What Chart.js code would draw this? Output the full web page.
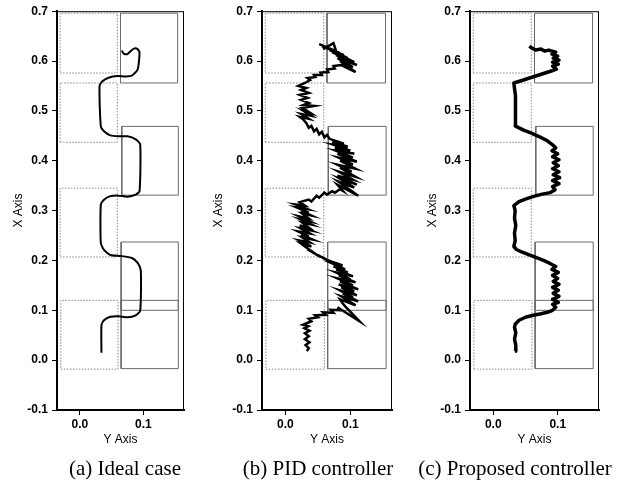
<!DOCTYPE html>
<html>
<head>
<meta charset="utf-8">
<script src="https://cdn.jsdelivr.net/npm/chart.js@4/dist/chart.umd.min.js"></script>
<style>
  body { margin: 0; background: #fff; }
  #wrap { position: relative; width: 625px; height: 486px; }
  canvas { position: absolute; top: 0; }
</style>
</head>
<body>
<div id="wrap">
  <canvas id="chartA" width="205" height="486" style="left:0px"></canvas>
  <canvas id="chartB" width="205" height="486" style="left:205px"></canvas>
  <canvas id="chartC" width="205" height="486" style="left:413px"></canvas>
</div>
<script>
// tick values
const xTicks = [0.0, 0.1];
const yTicks = [-0.1, 0.0, 0.1, 0.2, 0.3, 0.4, 0.5, 0.6, 0.7];

const captions = ["(a) Ideal case", "(b) PID controller", "(c) Proposed controller"];

// obstacles [x1, x2, y1, y2]
const leftBoxes = [
    [-0.031, 0.059, 0.576, 0.696],
    [-0.031, 0.059, 0.437, 0.556],
    [-0.031, 0.059, 0.207, 0.345],
    [-0.030, 0.060, -0.018, 0.120]
];
const rightBoxes = [
    [0.064, 0.154, 0.556, 0.696],
    [0.066, 0.155, 0.331, 0.469],
    [0.065, 0.155, 0.100, 0.237],
    [0.065, 0.155, -0.017, 0.120]
];

// trajectories [y axis, x axis]
const idealPath = [
    [0.034,0.015],[0.034,0.070],[0.038,0.080],[0.048,0.087],[0.061,0.088],[0.075,0.086],[0.088,0.090],
    [0.095,0.099],[0.096,0.180],[0.091,0.195],[0.082,0.205],[0.064,0.209],[0.048,0.211],[0.038,0.221],
    [0.033,0.235],[0.033,0.312],[0.038,0.322],[0.048,0.329],[0.061,0.330],[0.075,0.328],[0.088,0.332],
    [0.094,0.339],[0.095,0.433],[0.088,0.443],[0.075,0.449],[0.061,0.449],[0.048,0.451],[0.038,0.459],
    [0.033,0.469],[0.031,0.550],[0.036,0.560],[0.046,0.567],[0.059,0.570],[0.072,0.569],[0.082,0.571],
    [0.091,0.583],[0.094,0.617],[0.091,0.624],[0.085,0.625],[0.080,0.620],[0.075,0.614],[0.069,0.615],
    [0.066,0.621]
];

const pidPath = [
    [0.033,0.018],[0.036,0.024],[0.031,0.030],[0.037,0.036],[0.030,0.042],[0.036,0.048],[0.030,0.054],
    [0.037,0.059],[0.029,0.064],[0.035,0.068],[0.027,0.071],
    [0.040,0.078],[0.036,0.083],[0.050,0.086],[0.046,0.090],[0.062,0.091],[0.058,0.096],[0.074,0.095],
    [0.070,0.101],[0.086,0.100],[0.080,0.106],[0.114,0.078],[0.092,0.108],[0.088,0.114],
    [0.084,0.122],[0.108,0.110],[0.086,0.128],[0.112,0.118],[0.088,0.134],[0.104,0.126],[0.084,0.140],
    [0.110,0.130],[0.086,0.146],[0.106,0.138],[0.082,0.152],[0.112,0.142],[0.084,0.158],[0.104,0.150],
    [0.080,0.164],[0.108,0.156],[0.082,0.170],[0.100,0.162],[0.078,0.176],[0.104,0.168],[0.078,0.182],
    [0.096,0.176],[0.074,0.188],[0.092,0.182],[0.072,0.194],[0.088,0.190],
    [0.066,0.200],[0.070,0.196],[0.058,0.206],[0.062,0.202],[0.050,0.211],[0.054,0.207],[0.042,0.216],
    [0.046,0.213],[0.034,0.222],[0.040,0.219],[0.030,0.228],
    [0.024,0.234],[0.040,0.228],[0.022,0.240],[0.038,0.236],[0.026,0.246],[0.042,0.242],[0.024,0.252],
    [0.036,0.248],[0.020,0.258],[0.038,0.254],[0.024,0.264],[0.040,0.260],[0.022,0.270],[0.036,0.266],
    [0.026,0.276],[0.040,0.272],[0.024,0.282],[0.038,0.278],[0.022,0.288],[0.036,0.284],[0.026,0.294],
    [0.040,0.290],[0.024,0.300],[0.036,0.296],[0.018,0.306],[0.034,0.303],[0.016,0.312],[0.030,0.310],
    [0.022,0.317],
    [0.036,0.322],[0.040,0.318],[0.048,0.330],[0.052,0.326],[0.060,0.336],[0.064,0.332],[0.072,0.339],
    [0.076,0.336],[0.084,0.343],[0.088,0.340],
    [0.080,0.352],[0.112,0.330],[0.082,0.358],[0.106,0.346],[0.084,0.364],[0.110,0.352],[0.080,0.370],
    [0.104,0.362],[0.082,0.378],[0.108,0.368],[0.084,0.386],[0.102,0.378],[0.080,0.392],[0.108,0.384],
    [0.084,0.400],[0.104,0.392],[0.082,0.406],[0.110,0.398],[0.080,0.414],[0.104,0.406],[0.078,0.420],
    [0.106,0.414],[0.076,0.426],[0.100,0.420],[0.074,0.432],[0.096,0.428],[0.072,0.438],[0.090,0.434],
    [0.068,0.444],
    [0.064,0.452],[0.060,0.447],[0.056,0.458],[0.052,0.453],[0.048,0.464],[0.044,0.459],[0.040,0.470],
    [0.036,0.466],[0.032,0.476],[0.028,0.482],
    [0.022,0.488],[0.036,0.484],[0.024,0.494],[0.040,0.490],[0.028,0.500],[0.038,0.496],[0.026,0.506],
    [0.044,0.510],[0.028,0.512],[0.036,0.516],[0.024,0.522],[0.034,0.526],[0.022,0.532],[0.036,0.536],
    [0.024,0.542],[0.032,0.546],[0.020,0.550],[0.030,0.556],
    [0.038,0.562],[0.034,0.566],[0.046,0.568],[0.044,0.572],[0.056,0.572],[0.054,0.577],[0.066,0.578],
    [0.064,0.583],[0.076,0.585],[0.074,0.590],[0.086,0.592],
    [0.108,0.578],[0.084,0.600],[0.104,0.588],[0.080,0.606],[0.110,0.592],[0.078,0.612],[0.100,0.600],
    [0.072,0.618],[0.106,0.598],[0.068,0.622],[0.096,0.606],[0.064,0.626],[0.090,0.612],[0.056,0.630],
    [0.084,0.616],[0.052,0.634],[0.078,0.620],[0.074,0.636],[0.058,0.624]
];

const proposedPath = [
    [0.034,0.018],[0.035,0.030],[0.033,0.042],[0.035,0.055],[0.033,0.066],[0.034,0.072],
    [0.040,0.080],[0.050,0.086],[0.062,0.090],[0.074,0.093],[0.084,0.096],[0.092,0.100],[0.097,0.106],
    [0.092,0.112],[0.101,0.116],[0.092,0.122],[0.102,0.128],[0.093,0.134],[0.101,0.140],[0.092,0.146],
    [0.102,0.152],[0.093,0.158],[0.100,0.164],[0.092,0.170],[0.101,0.176],[0.091,0.182],[0.097,0.188],
    [0.088,0.194],
    [0.078,0.200],[0.066,0.206],[0.054,0.212],[0.044,0.217],[0.036,0.222],[0.032,0.228],
    [0.034,0.240],[0.033,0.255],[0.035,0.270],[0.033,0.285],[0.034,0.300],[0.032,0.310],
    [0.040,0.318],[0.052,0.324],[0.064,0.329],[0.076,0.333],[0.088,0.336],[0.096,0.342],
    [0.092,0.348],[0.102,0.354],[0.092,0.360],[0.103,0.366],[0.093,0.372],[0.102,0.378],[0.092,0.384],
    [0.101,0.390],[0.093,0.396],[0.102,0.402],[0.092,0.408],[0.100,0.414],[0.091,0.420],[0.097,0.426],
    [0.092,0.432],
    [0.084,0.440],[0.072,0.448],[0.060,0.455],[0.048,0.461],[0.040,0.466],[0.034,0.470],
    [0.035,0.485],[0.034,0.500],[0.035,0.515],[0.034,0.530],[0.033,0.545],[0.032,0.556],
    [0.042,0.560],[0.054,0.565],[0.066,0.570],[0.078,0.575],[0.090,0.580],[0.098,0.584],
    [0.092,0.590],[0.101,0.594],[0.092,0.598],[0.102,0.602],[0.093,0.606],[0.100,0.610],[0.091,0.614],
    [0.097,0.618],[0.086,0.622],[0.080,0.620],[0.074,0.624],[0.066,0.622],[0.060,0.626],[0.056,0.630]
];

// frame around the plot + caption under it
const framePlugin = {
    id: "frame",
    afterDraw(chart, args, opts) {
        const ctx = chart.ctx;
        const a = chart.chartArea;
        ctx.save();
        ctx.strokeStyle = "#000";
        ctx.lineWidth = 1;
        ctx.strokeRect(a.left, a.top + 0.5, a.width - 0.5, a.height);
        ctx.font = "21px 'Liberation Serif', serif";
        ctx.fillStyle = "#000";
        ctx.textAlign = "center";
        ctx.textBaseline = "middle";
        ctx.fillText(opts.text, opts.x, 469);
        ctx.restore();
    }
};

function boxDataset(b, color, dash) {
    return {
        data: [
            { x: b[0], y: b[2] }, { x: b[1], y: b[2] }, { x: b[1], y: b[3] },
            { x: b[0], y: b[3] }, { x: b[0], y: b[2] }
        ],
        showLine: true,
        borderColor: color,
        borderWidth: 1,
        borderDash: dash,
        pointRadius: 0,
        tension: 0
    };
}

function makePanel(id, path, caption, p) {
    const datasets = [{
        data: path.map(v => ({ x: v[0], y: v[1] })),
        showLine: true,
        borderColor: "#000",
        borderWidth: p.lw,
        borderJoinStyle: p.join,
        pointRadius: 0,
        tension: p.tension
    }];
    rightBoxes.forEach(b => datasets.push(boxDataset(b, "#6a6a6a", [])));
    leftBoxes.forEach(b => datasets.push(boxDataset(b, "#8a8a8a", [1.5, 1.5])));

    new Chart(document.getElementById(id), {
        type: "scatter",
        data: { datasets: datasets },
        plugins: [framePlugin],
        options: {
            responsive: false,
            animation: false,
            layout: { padding: { left: 0, right: p.padRight, top: 10, bottom: 31 } },
            plugins: {
                legend: { display: false },
                tooltip: { enabled: false },
                frame: { text: caption, x: p.capX }
            },
            scales: {
                x: {
                    type: "linear",
                    min: -0.036,
                    max: 0.164,
                    afterBuildTicks: s => { s.ticks = xTicks.map(v => ({ value: v })); },
                    afterFit: s => { s.height = 45; },
                    grid: { drawOnChartArea: false, drawTicks: true, tickLength: 5, color: "#000" },
                    border: { color: "#000", width: 2 },
                    ticks: {
                        padding: 2,
                        color: "#000",
                        font: { family: "'Liberation Sans', Arial", size: 12, weight: "bold" },
                        callback: v => v.toFixed(1)
                    },
                    title: {
                        display: true,
                        text: "Y Axis",
                        color: "#000",
                        padding: { top: 0, bottom: 8 },
                        font: { family: "'Liberation Sans', Arial", size: 12 }
                    }
                },
                y: {
                    type: "linear",
                    min: -0.1,
                    max: 0.7,
                    afterBuildTicks: s => { s.ticks = yTicks.map(v => ({ value: v })); },
                    afterFit: s => { s.width = 57; },
                    grid: { drawOnChartArea: false, drawTicks: true, tickLength: 5, color: "#000" },
                    border: { color: "#000", width: 2 },
                    ticks: {
                        padding: 4,
                        color: "#000",
                        font: { family: "'Liberation Sans', Arial", size: 12, weight: "bold" },
                        callback: v => v.toFixed(1)
                    },
                    title: {
                        display: true,
                        text: "X Axis",
                        color: "#000",
                        padding: { top: p.titlePad, bottom: 0 },
                        font: { family: "'Liberation Sans', Arial", size: 12 }
                    }
                }
            }
        }
    });
}

makePanel("chartA", idealPath, captions[0], { padRight: 21, titlePad: 11, capX: 125, lw: 2, tension: 0.2, join: "round" });
makePanel("chartB", pidPath, captions[1], { padRight: 18, titlePad: 6, capX: 113, lw: 2.5, tension: 0, join: "miter" });
makePanel("chartC", proposedPath, captions[2], { padRight: 19, titlePad: 12, capX: 102, lw: 3.5, tension: 0, join: "round" });
</script>
</body>
</html>
